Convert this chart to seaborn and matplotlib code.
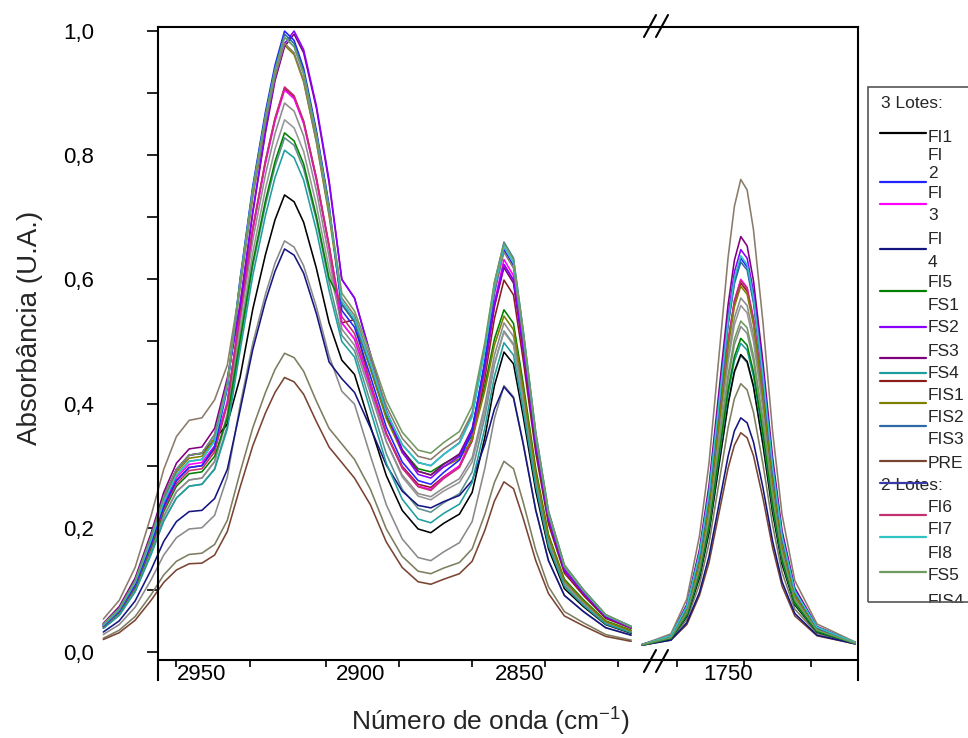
import matplotlib
matplotlib.use("Agg")
import pandas as pd
import matplotlib.pyplot as plt
import seaborn as sns
from matplotlib.lines import Line2D
from matplotlib.patches import Rectangle
from matplotlib.ticker import FixedLocator, FuncFormatter

sns.set_theme(style="ticks")
plt.rcParams["font.family"] = ["Liberation Sans", "DejaVu Sans"]
plt.rcParams["mathtext.fontset"] = "custom"
plt.rcParams["mathtext.rm"] = "Liberation Sans"
plt.rcParams["mathtext.default"] = "regular"

# wavenumbers (cm-1) of the two windows of the broken axis
WN_LEFT = [2981, 2976, 2971, 2966, 2962, 2958, 2954, 2950, 2946, 2942, 2938, 2934, 2930, 2927,
           2924, 2921, 2918, 2914, 2910, 2906, 2902, 2897, 2892, 2887, 2882, 2878, 2874, 2869,
           2865, 2861, 2858, 2855, 2852, 2849, 2845, 2841, 2836, 2830, 2823, 2815]
WN_RIGHT = [1777, 1768, 1763, 1759, 1756, 1753, 1750, 1748, 1746, 1744, 1742, 1739, 1736, 1733,
            1729, 1722, 1710]

# absorbance
FI1_L = [.045, .070, .115, .186, .250, .294, .317, .320, .342, .367, .442, .552, .640, .696, .736, .725, .692, .618, .530, .470,
         .447, .364, .284, .228, .198, .192, .207, .222, .257, .346, .429, .483, .464, .381, .259, .166, .102, .073, .044, .030]
FI1_R = [.011, .022, .057, .120, .193, .297, .400, .452, .479, .468, .428, .334, .226, .142, .076, .032, .014]
FI2_L = [.042, .066, .108, .174, .234, .276, .297, .300, .330, .425, .600, .750, .870, .945, 1.000, .985, .940, .840, .720, .550,
         .523, .444, .362, .306, .276, .270, .289, .309, .355, .470, .578, .648, .622, .511, .347, .223, .138, .098, .059, .041]
FI2_R = [.012, .026, .073, .157, .254, .392, .530, .598, .634, .620, .567, .442, .298, .185, .098, .039, .015]
FI3_L = [.043, .067, .110, .177, .238, .281, .302, .305, .332, .403, .543, .679, .787, .855, .905, .891, .851, .760, .652, .530,
         .504, .428, .350, .297, .267, .262, .281, .300, .345, .458, .563, .632, .606, .498, .338, .217, .134, .096, .057, .040]
FI3_R = [.012, .025, .069, .149, .241, .371, .501, .566, .600, .587, .537, .418, .282, .176, .093, .038, .015]
FI4_L = [.032, .050, .082, .132, .178, .210, .226, .228, .247, .294, .389, .487, .565, .613, .649, .639, .610, .545, .467, .440,
         .418, .361, .301, .259, .236, .232, .242, .252, .276, .335, .391, .427, .409, .336, .228, .147, .091, .065, .039, .027]
FI4_R = [.011, .019, .047, .096, .154, .234, .315, .356, .377, .369, .338, .264, .179, .113, .062, .027, .013]
FI5_L = [.041, .064, .104, .168, .226, .267, .287, .290, .315, .377, .502, .627, .727, .790, .836, .823, .786, .702, .602, .560,
         .532, .457, .379, .325, .295, .290, .303, .317, .349, .429, .504, .551, .529, .434, .295, .189, .117, .084, .050, .035]
FI5_R = [.011, .022, .060, .127, .203, .313, .422, .476, .505, .494, .451, .352, .238, .149, .079, .033, .014]
FS1_L = [.042, .066, .108, .174, .234, .276, .297, .300, .327, .401, .545, .681, .790, .858, .908, .894, .854, .763, .654, .530,
         .535, .429, .352, .299, .270, .265, .282, .299, .340, .442, .537, .599, .575, .472, .321, .206, .127, .091, .054, .038]
FS1_R = [.012, .025, .069, .148, .239, .367, .496, .561, .594, .581, .532, .414, .280, .174, .092, .038, .015]
FS2_L = [.045, .070, .115, .186, .250, .294, .317, .320, .350, .436, .560, .710, .840, .925, .980, 1.000, .970, .880, .760, .600,
         .570, .478, .386, .322, .286, .280, .298, .315, .357, .462, .560, .624, .599, .491, .334, .214, .132, .095, .057, .039]
FS2_R = [.012, .026, .074, .160, .260, .400, .541, .612, .648, .634, .580, .452, .304, .189, .100, .040, .015]
FS3_L = [.046, .073, .119, .191, .257, .304, .327, .330, .360, .441, .557, .706, .836, .920, .975, .995, .965, .876, .756, .600,
         .570, .480, .389, .326, .291, .285, .302, .319, .360, .462, .557, .619, .594, .488, .331, .213, .131, .094, .056, .039]
FS3_R = [.012, .027, .076, .165, .268, .413, .559, .631, .669, .654, .598, .466, .314, .195, .103, .041, .015]
FS4_L = [.038, .059, .097, .157, .211, .248, .267, .270, .294, .359, .485, .606, .703, .764, .808, .796, .760, .679, .582, .500,
         .475, .389, .304, .246, .214, .208, .223, .238, .273, .361, .444, .498, .478, .392, .267, .171, .106, .075, .045, .031]
FS4_R = [.011, .022, .059, .125, .200, .308, .415, .469, .497, .486, .444, .347, .234, .147, .078, .033, .014]
FIS1_L = [.044, .069, .113, .183, .246, .290, .312, .315, .344, .427, .586, .733, .850, .923, .977, .962, .918, .821, .703, .560,
          .532, .456, .376, .321, .291, .285, .298, .311, .342, .421, .494, .541, .519, .426, .289, .186, .115, .082, .049, .034]
FIS1_R = [.012, .025, .068, .147, .237, .364, .492, .556, .589, .576, .527, .411, .277, .173, .091, .037, .015]
FIS2_L = [.043, .068, .112, .180, .242, .285, .307, .310, .340, .430, .597, .746, .866, .940, .995, .980, .935, .836, .716, .560,
          .532, .461, .386, .334, .305, .300, .318, .337, .381, .491, .594, .660, .634, .520, .354, .227, .140, .100, .060, .041]
FIS2_R = [.012, .026, .072, .156, .252, .388, .525, .593, .628, .615, .562, .438, .295, .184, .097, .039, .015]
FIS3_L = [.039, .062, .101, .162, .218, .258, .277, .280, .307, .384, .530, .663, .769, .835, .884, .871, .831, .743, .636, .520,
          .494, .417, .339, .285, .255, .250, .264, .279, .313, .398, .478, .530, .508, .417, .284, .182, .112, .080, .048, .033]
FIS3_R = [.012, .024, .066, .142, .229, .353, .476, .538, .570, .558, .510, .398, .269, .167, .089, .036, .014]
PRE_L = [.020, .031, .051, .083, .112, .132, .142, .143, .156, .194, .265, .332, .385, .418, .442, .435, .415, .371, .330, .305,
         .280, .237, .177, .136, .113, .109, .117, .126, .146, .196, .243, .274, .263, .216, .147, .094, .058, .042, .025, .017]
PRE_R = [.011, .019, .044, .091, .144, .220, .296, .333, .353, .345, .316, .247, .168, .106, .058, .026, .013]
FI6_L = [.041, .065, .106, .171, .230, .271, .292, .295, .322, .399, .546, .683, .792, .860, .910, .896, .855, .764, .655, .540,
         .513, .434, .352, .296, .266, .260, .279, .297, .341, .452, .556, .624, .599, .491, .334, .214, .132, .095, .057, .039]
FI6_R = [.012, .025, .069, .149, .240, .370, .500, .565, .598, .585, .535, .417, .281, .175, .093, .038, .015]
FI7_L = [.043, .068, .112, .180, .242, .285, .307, .310, .340, .428, .594, .743, .861, .936, .990, .975, .931, .832, .713, .565,
         .537, .464, .387, .334, .305, .300, .318, .336, .379, .487, .588, .653, .627, .515, .350, .224, .139, .099, .059, .041]
FI7_R = [.012, .026, .073, .158, .256, .394, .533, .602, .638, .624, .571, .445, .300, .186, .098, .040, .015]
FI8_L = [.028, .044, .072, .116, .156, .184, .198, .200, .220, .282, .397, .497, .576, .626, .662, .652, .622, .556, .477, .420,
         .399, .316, .237, .182, .152, .147, .161, .176, .210, .296, .376, .429, .411, .338, .229, .147, .091, .065, .039, .027]
FI8_R = [.012, .023, .062, .131, .211, .325, .438, .495, .524, .513, .469, .366, .247, .154, .082, .034, .014]
FS5_L = [.045, .070, .115, .186, .250, .294, .317, .320, .350, .433, .594, .743, .861, .936, .990, .975, .931, .832, .713, .578,
         .549, .480, .405, .354, .325, .320, .337, .355, .396, .499, .596, .658, .632, .519, .352, .226, .140, .100, .060, .041]
FS5_R = [.012, .023, .063, .133, .215, .330, .446, .504, .533, .522, .477, .372, .252, .157, .084, .035, .014]
FIS4_L = [.053, .083, .136, .219, .294, .347, .373, .377, .406, .462, .588, .735, .853, .926, .980, .965, .921, .823, .706, .570,
          .542, .471, .396, .344, .315, .310, .327, .344, .385, .487, .582, .644, .618, .507, .345, .221, .137, .098, .059, .040]
FIS4_R = [.012, .029, .085, .187, .304, .469, .635, .718, .761, .744, .680, .530, .356, .221, .115, .045, .016]
# three more spectra whose legend rows are cut off in the original
X1_L = [.022, .035, .057, .092, .124, .146, .157, .159, .173, .212, .289, .361, .418, .455, .481, .474, .452, .404, .360, .335,
        .310, .262, .198, .154, .130, .126, .135, .144, .166, .222, .273, .307, .295, .242, .164, .105, .065, .047, .028, .019]
X1_R = [.011, .021, .052, .109, .175, .268, .361, .408, .432, .422, .386, .302, .205, .128, .069, .030, .013]
X2_L = [.038, .059, .097, .157, .211, .248, .267, .270, .295, .364, .497, .621, .720, .782, .828, .816, .778, .696, .596, .510,
        .485, .402, .319, .262, .231, .225, .240, .255, .290, .379, .463, .517, .496, .407, .277, .177, .110, .078, .047, .032]
X2_R = [.011, .022, .057, .120, .193, .295, .398, .450, .477, .466, .427, .333, .225, .141, .076, .032, .014]
X3_L = [.039, .062, .101, .162, .218, .258, .277, .280, .306, .377, .514, .643, .746, .810, .857, .844, .806, .720, .617, .530,
        .504, .422, .339, .282, .251, .245, .259, .273, .306, .388, .465, .515, .494, .406, .276, .177, .109, .078, .047, .032]
X3_R = [.012, .024, .065, .139, .225, .346, .467, .527, .558, .546, .500, .390, .263, .164, .087, .036, .014]

SAMPLES = ["X1", "X2", "X3", "FIS3", "FI8", "PRE", "FI1", "FI4", "FS4", "FI5", "FS1", "FI3", "FI6",
           "FIS1", "FS3", "FS2", "FI2", "FIS2", "FIS4", "FI7", "FS5"]
LEFT = {"FI1": FI1_L, "FI2": FI2_L, "FI3": FI3_L, "FI4": FI4_L, "FI5": FI5_L, "FS1": FS1_L,
        "FS2": FS2_L, "FS3": FS3_L, "FS4": FS4_L, "FIS1": FIS1_L, "FIS2": FIS2_L, "FIS3": FIS3_L,
        "PRE": PRE_L, "FI6": FI6_L, "FI7": FI7_L, "FI8": FI8_L, "FS5": FS5_L, "FIS4": FIS4_L,
        "X1": X1_L, "X2": X2_L, "X3": X3_L}
RIGHT = {"FI1": FI1_R, "FI2": FI2_R, "FI3": FI3_R, "FI4": FI4_R, "FI5": FI5_R, "FS1": FS1_R,
         "FS2": FS2_R, "FS3": FS3_R, "FS4": FS4_R, "FIS1": FIS1_R, "FIS2": FIS2_R, "FIS3": FIS3_R,
         "PRE": PRE_R, "FI6": FI6_R, "FI7": FI7_R, "FI8": FI8_R, "FS5": FS5_R, "FIS4": FIS4_R,
         "X1": X1_R, "X2": X2_R, "X3": X3_R}
COLORS = {"FI1": "#000000", "FI2": "#2323ff", "FI3": "#ff00ff", "FI4": "#151580", "FI5": "#008000",
          "FS1": "#8b1c1c", "FS2": "#8a00ff", "FS3": "#800080", "FS4": "#1f9e9e", "FIS1": "#808000",
          "FIS2": "#2f69a6", "FIS3": "#8c8c8c", "PRE": "#7a4433", "FI6": "#c2306f", "FI7": "#2ec4c4",
          "FI8": "#8a8a8a", "FS5": "#6f9a60", "FIS4": "#8b7b6b", "X1": "#7d7d60", "X2": "#5f8f8f",
          "X3": "#969696"}

# legend as it appears in the original (wrapped labels, lines slightly off their rows)
LEGEND_TEXT = ["3 Lotes:", "FI1", "FI", "2", "FI", "3", "FI", "4", "FI5", "FS1", "FS2", "FS3", "FS4",
               "FIS1", "FIS2", "FIS3", "PRE", "2 Lotes:", "FI6", "FI7", "FI8", "FS5", "FIS4"]
LEGEND_LINES = ["FI1", "FI2", "FI3", "FI4", "FI5", "FS2", "FS3", "FS4", "FS1", "FIS1", "FIS2", "PRE",
                "2 Lotes", "FI6", "FI7", "FS5"]

# layout (pixels of the 968x738 canvas)
W, H = 968, 738
LEG_TEXT_Y = [103, 137, 156, 174, 194, 216, 239, 262, 283, 305, 328, 352, 373, 396, 417, 440, 463,
              485, 508, 530, 553, 575, 601]
LEG_LINE_Y = [133, 182, 204, 249, 291, 327, 358, 373, 381, 403, 426, 461, 483, 515, 537, 572]
TICKS_LEFT = [2958, 2935, 2911, 2888, 2865, 2842, 2819]
TICKS_RIGHT = [1766, 1745, 1724]


def fx(px):
    return px / W


def fy(py):
    return 1 - py / H


df_left = pd.concat([pd.DataFrame({"wn": WN_LEFT, "abs": LEFT[s], "amostra": s}) for s in SAMPLES])
df_right = pd.concat([pd.DataFrame({"wn": WN_RIGHT, "abs": RIGHT[s], "amostra": s}) for s in SAMPLES])

fig = plt.figure(figsize=(W / 100, H / 100), dpi=100)
ax1 = fig.add_axes([fx(158), fy(660), (655 - 158) / W, (660 - 27) / H])
ax2 = fig.add_axes([fx(655), fy(660), (858 - 655) / W, (660 - 27) / H])

for ax, df in ((ax1, df_left), (ax2, df_right)):
    sns.lineplot(data=df, x="wn", y="abs", hue="amostra", hue_order=SAMPLES, palette=COLORS,
                 estimator=None, sort=False, legend=False, lw=1.15, clip_on=False, ax=ax)
    ax.set_xlabel("")
    ax.set_ylabel("")
    ax.patch.set_alpha(0)
    ax.set_ylim(-0.013, 1.0065)
    for sp in ax.spines.values():
        sp.set_linewidth(1.5)
        sp.set_color("black")
    ax.tick_params(axis="x", which="major", length=0, pad=3, labelsize=16, labelcolor="black")
    ax.tick_params(axis="x", which="minor", direction="out", length=5, width=1.2, color="black")

ax1.set_xlim(2963.8, 2807.5)
ax2.set_xlim(1773.0, 1709.1)
ax1.set_xticks([2950, 2900, 2850])
ax2.set_xticks([1750])
ax1.xaxis.set_minor_locator(FixedLocator(TICKS_LEFT))
ax2.xaxis.set_minor_locator(FixedLocator(TICKS_RIGHT))

ax1.spines["right"].set_visible(False)
ax2.spines["left"].set_visible(False)
ax1.spines["left"].set_bounds(-0.045, 1.0065)
ax2.spines["right"].set_bounds(-0.045, 1.0065)

ax1.set_yticks([0, 0.2, 0.4, 0.6, 0.8, 1.0])
ax1.yaxis.set_minor_locator(FixedLocator([0.1, 0.3, 0.5, 0.7, 0.9]))
ax1.yaxis.set_major_formatter(FuncFormatter(lambda v, p: f"{v:.1f}".replace(".", ",")))
ax1.tick_params(axis="y", which="both", direction="out", length=8, width=1.2, color="black",
                pad=38, labelsize=16, labelcolor="black")
ax2.tick_params(axis="y", which="both", left=False, labelleft=False)

# break marks
for yc in (26, 661):
    for xc in (650, 662):
        fig.add_artist(Line2D([fx(xc - 6), fx(xc + 6)], [fy(yc + 11), fy(yc - 11)],
                              color="black", lw=1.5))

fig.text(fx(30), fy(328), "Absorbância (U.A.)", rotation=90, ha="center", va="center", fontsize=20)
fig.text(fx(490), fy(722), "Número de onda (cm$^{-1}$)", ha="center", va="center", fontsize=19)

# legend box, cut by the canvas edge like the original
for txt, y in zip(LEGEND_TEXT, LEG_TEXT_Y):
    x = 881 if "Lotes" in txt else 928
    fig.text(fx(x), fy(y), txt, ha="left", va="center", fontsize=12.5, zorder=3)
for name, y in zip(LEGEND_LINES, LEG_LINE_Y):
    col = COLORS.get(name, "#3a3aa6")
    fig.add_artist(Line2D([fx(880), fx(926)], [fy(y), fy(y)], color=col, lw=1.6, zorder=4))
fig.add_artist(Rectangle((fx(866), fy(640)), (W - 866) / W, (640 - 603) / H,
                         transform=fig.transFigure, facecolor="white", edgecolor="none", zorder=5))
fig.add_artist(Rectangle((fx(868), fy(602)), (1000 - 868) / W, (602 - 87) / H,
                         transform=fig.transFigure, fill=False, edgecolor="#555555", lw=1.2, zorder=6))

fig.savefig("out.png", dpi=100)
